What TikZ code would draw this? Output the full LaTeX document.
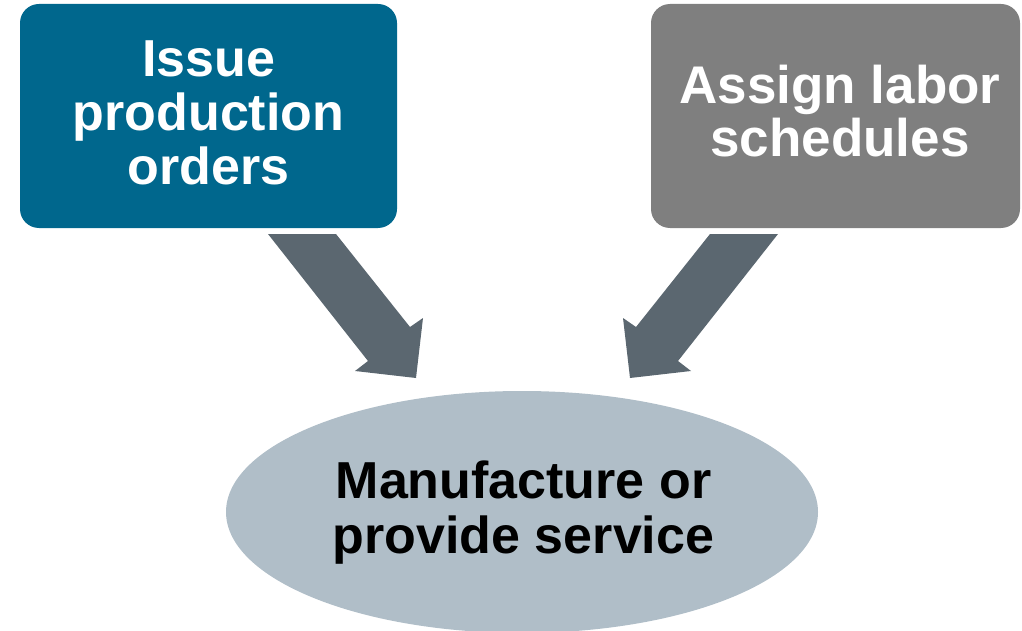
\documentclass[tikz,border=0pt]{standalone}
\usepackage{fontspec}
\setmainfont{Liberation Sans}
\usetikzlibrary{shapes.geometric}
\definecolor{boxblue}{RGB}{0,103,141}
\definecolor{boxgray}{RGB}{127,127,127}
\definecolor{arrowgray}{RGB}{91,103,112}
\definecolor{ellfill}{RGB}{176,190,200}
\tikzset{
  box/.style={rounded corners=19pt, draw=none},
  lbl/.style={font=\bfseries\fontsize{52}{54}\selectfont, align=center, inner sep=0pt},
  blockarrow/.style={fill=arrowgray, draw=none},
}
\begin{document}
\begin{tikzpicture}[x=1pt,y=-1pt]
\useasboundingbox (0,0) rectangle (1022,631);
\clip (0,0) rectangle (1022,631);
% boxes
\fill[box, boxblue] (20,4) rectangle (397,228);
\fill[box, boxgray] (651,4) rectangle (1020,228);
\node[lbl, text=white] (issue) at (208.5,113) {Issue\\production\\orders};
\node[lbl, text=white, font=\bfseries\fontsize{53}{53}\selectfont] (assign) at (840,111) {Assign labor\\schedules};
% ellipse
\fill[ellfill] (522,512) ellipse [x radius=296, y radius=121];
\node[lbl, text=black, font=\bfseries\fontsize{52}{55}\selectfont] (manu) at (523.5,513) {Manufacture or\\provide service};
% left block arrow
\coordinate (la1) at (268,234);
\coordinate (la2) at (336,234);
\coordinate (la3) at (410,327);
\coordinate (la4) at (423,318);
\coordinate (la5) at (416,378);
\coordinate (la6) at (355,371);
\coordinate (la7) at (368,361);
\fill[blockarrow] (la1) -- (la2) -- (la3) -- (la4) -- (la5) -- (la6) -- (la7) -- cycle;
% right block arrow
\coordinate (ra1) at (778,234);
\coordinate (ra2) at (710,234);
\coordinate (ra3) at (636,327);
\coordinate (ra4) at (623,318);
\coordinate (ra5) at (630,378);
\coordinate (ra6) at (691,371);
\coordinate (ra7) at (678,361);
\fill[blockarrow] (ra1) -- (ra2) -- (ra3) -- (ra4) -- (ra5) -- (ra6) -- (ra7) -- cycle;
\end{tikzpicture}
\end{document}
